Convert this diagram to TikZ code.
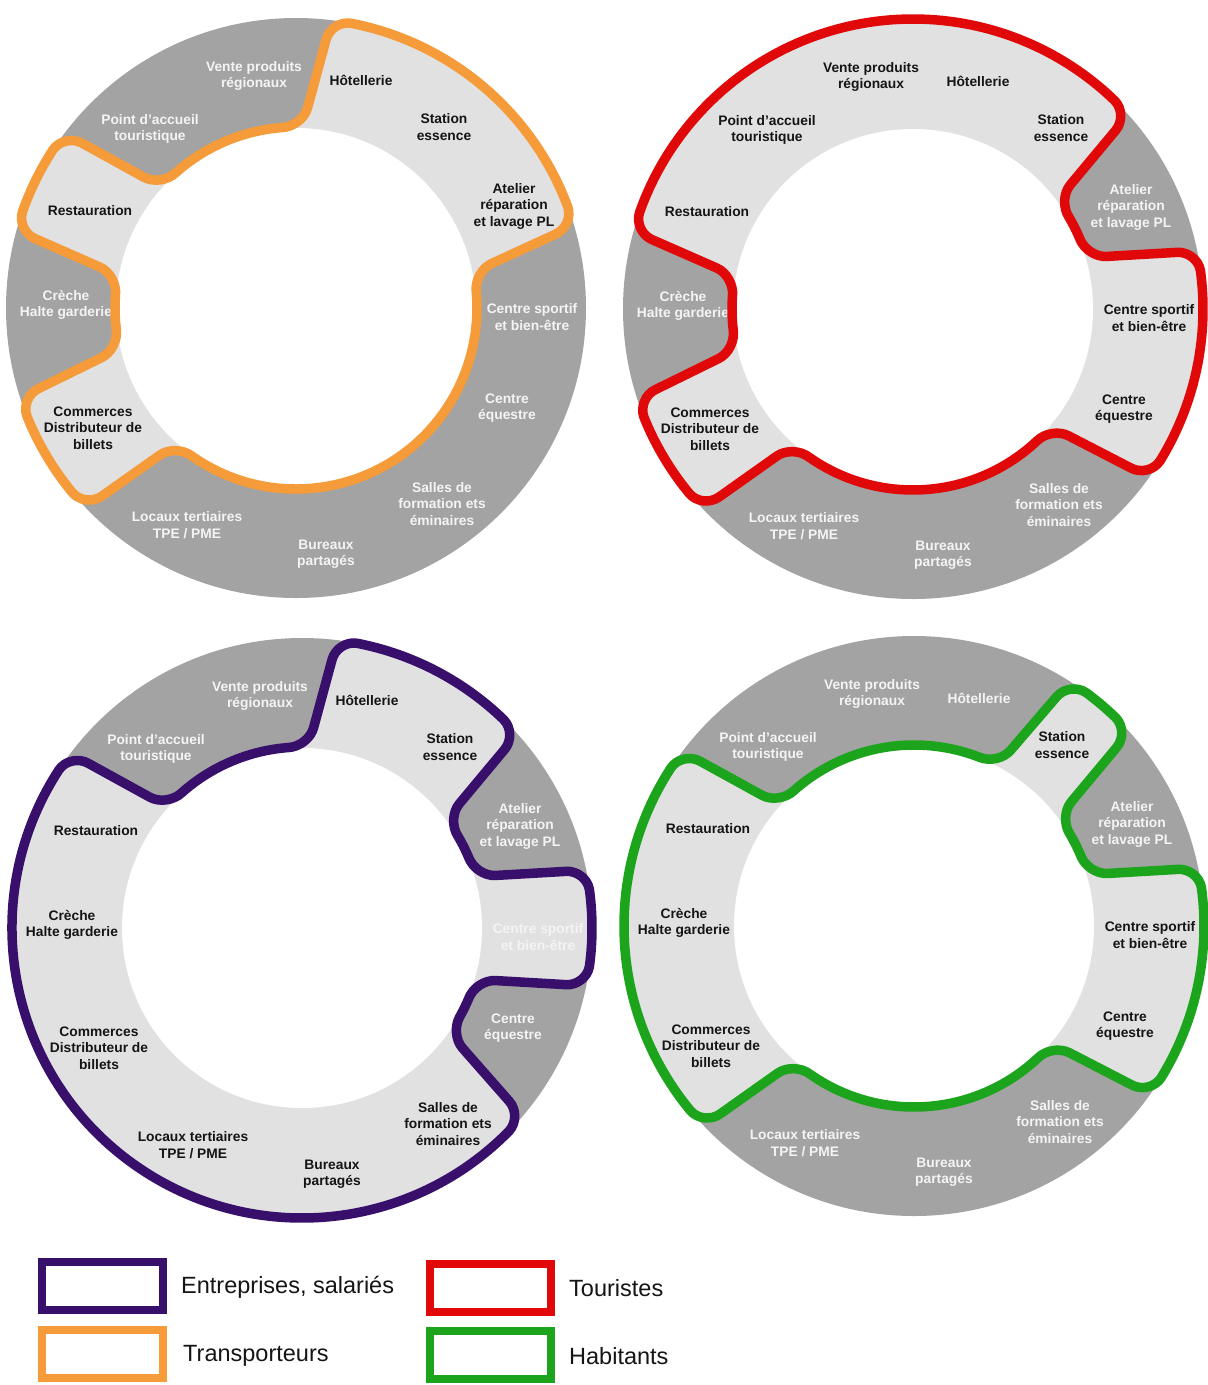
\documentclass[tikz,border=0pt]{standalone}
\usepackage{fontspec}
\setmainfont{Liberation Sans}
\usetikzlibrary{calc}
\definecolor{ringdark}{HTML}{A3A3A3}
\definecolor{ringlight}{HTML}{E1E1E1}
\definecolor{cOrange}{HTML}{F59B3A}
\definecolor{cRed}{HTML}{E00808}
\definecolor{cPurple}{HTML}{38106C}
\definecolor{cGreen}{HTML}{1CA51C}
\definecolor{tD}{HTML}{151515}
\definecolor{tW}{HTML}{F4F4F4}

\def\Ro{290}\def\Ri{181}\def\Rring{290}\def\Rhole{180}
% arcs between two boundaries (angles in degrees)
\newcommand\Oarc[2]{arc[start angle=#1+6.45,end angle=#2-6.45,radius=\Ro]}
\newcommand\Iarc[2]{arc[start angle=#1+8.83,end angle=#2-8.83,radius=\Ri]}
% transitions at a boundary, with rounded corners
\newcommand\OtoI[1]{.. controls (#1-4.28:\Ro) and ($(#1-2.5:\Ro)!9pt!(#1+2.5:\Ri)$) .. ($(#1-2.5:\Ro)!20pt!(#1+2.5:\Ri)$)
  -- ($(#1+2.5:\Ri)!20pt!(#1-2.5:\Ro)$)
  .. controls ($(#1+2.5:\Ri)!9pt!(#1-2.5:\Ro)$) and (#1+5.35:\Ri) .. (#1+8.83:\Ri)}
\newcommand\ItoO[1]{.. controls (#1-5.35:\Ri) and ($(#1-2.5:\Ri)!9pt!(#1+2.5:\Ro)$) .. ($(#1-2.5:\Ri)!20pt!(#1+2.5:\Ro)$)
  -- ($(#1+2.5:\Ro)!20pt!(#1-2.5:\Ri)$)
  .. controls ($(#1+2.5:\Ro)!9pt!(#1-2.5:\Ri)$) and (#1+4.28:\Ro) .. (#1+6.45:\Ro)}

\def\pathOrange{(20.45:\Ro) \Oarc{14}{85.5} \OtoI{85.5} \Iarc{85.5}{140.5} \ItoO{140.5} \Oarc{140.5}{167} \OtoI{167} \Iarc{167}{195.5} \ItoO{195.5} \Oarc{195.5}{226} \OtoI{226} \Iarc{226}{374} \ItoO{374} -- cycle}
\def\pathRed{(45.95:\Ro) \Oarc{39.5}{167} \OtoI{167} \Iarc{167}{195.5} \ItoO{195.5} \Oarc{195.5}{226} \OtoI{226} \Iarc{226}{322} \ItoO{322} \Oarc{322}{374} \OtoI{374} \Iarc{374}{399.5} \ItoO{399.5} -- cycle}
\def\pathPurple{(45.95:\Ro) \Oarc{39.5}{85.5} \OtoI{85.5} \Iarc{85.5}{140.5} \ItoO{140.5} \Oarc{140.5}{322} \OtoI{322} \Iarc{322}{346} \ItoO{346} \Oarc{346}{374} \OtoI{374} \Iarc{374}{399.5} \ItoO{399.5} -- cycle}
\def\pathGreen{(45.95:\Ro) \Oarc{39.5}{60} \OtoI{60} \Iarc{60}{140.5} \ItoO{140.5} \Oarc{140.5}{226} \OtoI{226} \Iarc{226}{322} \ItoO{322} \Oarc{322}{374} \OtoI{374} \Iarc{374}{399.5} \ItoO{399.5} -- cycle}

\newcommand\colsA[7]{\colorlet{cV}{#1}\colorlet{cH}{#2}\colorlet{cS}{#3}\colorlet{cA}{#4}\colorlet{cSp}{#5}\colorlet{cEq}{#6}\colorlet{cSa}{#7}}
\newcommand\colsB[6]{\colorlet{cBu}{#1}\colorlet{cLo}{#2}\colorlet{cCo}{#3}\colorlet{cCr}{#4}\colorlet{cRe}{#5}\colorlet{cPo}{#6}}

\newcommand\donutlabels[1]{%
  \node[lab,text=cV]  (#1-vente)   at (-42,232)   {Vente produits\\régionaux};
  \node[lab,text=cH]  (#1-hotel)   at (65,228)    {Hôtellerie};
  \node[lab,text=cS]  (#1-station) at (148,181)   {Station\\essence};
  \node[lab,text=cA]  (#1-atelier) at (218,102)   {Atelier\\réparation\\et lavage PL};
  \node[lab,text=cSp] (#1-sport)   at (236,-9)    {Centre sportif\\et bien-être};
  \node[lab,text=cEq] (#1-equestre) at (211,-100) {Centre\\équestre};
  \node[lab,text=cSa] (#1-salles)  at (146,-196)  {Salles de\\formation ets\\éminaires};
  \node[lab,text=cBu] (#1-bureaux) at (30,-246)   {Bureaux\\partagés};
  \node[lab,text=cLo] (#1-locaux)  at (-109,-217) {Locaux tertiaires\\TPE / PME};
  \node[lab,text=cCo] (#1-commerces) at (-203,-120) {Commerces\\Distributeur de\\billets};
  \node[lab,text=cCr] (#1-creche)  at (-230,3)    {Crèche\\Halte garderie};
  \node[lab,text=cRe] (#1-restau)  at (-206,97)   {Restauration};
  \node[lab,text=cPo] (#1-point)   at (-146,179)  {Point d'accueil\\touristique};
}

\tikzset{
  lab/.style={font=\fontsize{13.8}{16.5}\selectfont\bfseries, align=center, inner sep=0pt},
  outline/.style={line width=9.5pt, line join=round},
  legbox/.style={draw, line width=8pt, fill=white, minimum width=121pt, minimum height=48pt, inner sep=0pt},
  legtext/.style={anchor=west, inner sep=0pt, text=tD, font=\fontsize{23.5}{26}\selectfont},
}

\begin{document}
\begin{tikzpicture}[x=1pt,y=1pt]
\useasboundingbox (0,0) rectangle (1208,-1385);
\fill[white] (0,0) rectangle (1208,-1385);

% Donut 1 : Transporteurs (orange)
\begin{scope}[shift={(296,-308)}]
  \fill[ringdark] (0,0) circle[radius=\Rring];
  \fill[ringlight] \pathOrange;
  \fill[white] (0,0) circle[radius=\Rhole];
  \colsA{tW}{tD}{tD}{tD}{tW}{tW}{tW}
  \colsB{tW}{tW}{tD}{tW}{tD}{tW}
  \donutlabels{d1}
  \draw[outline,cOrange] \pathOrange;
\end{scope}

% Donut 2 : Touristes (red)
\begin{scope}[shift={(913,-309)}]
  \fill[ringdark] (0,0) circle[radius=\Rring];
  \fill[ringlight] \pathRed;
  \fill[white] (0,0) circle[radius=\Rhole];
  \colsA{tD}{tD}{tD}{tW}{tD}{tD}{tW}
  \colsB{tW}{tW}{tD}{tW}{tD}{tD}
  \donutlabels{d2}
  \draw[outline,cRed] \pathRed;
\end{scope}

% Donut 3 : Entreprises, salariés (purple)
\begin{scope}[shift={(302,-928)}]
  \fill[ringdark] (0,0) circle[radius=\Rring];
  \fill[ringlight] \pathPurple;
  \fill[white] (0,0) circle[radius=\Rhole];
  \colsA{tW}{tD}{tD}{tW}{tW}{tW}{tD}
  \colsB{tD}{tD}{tD}{tD}{tD}{tW}
  \donutlabels{d3}
  \draw[outline,cPurple] \pathPurple;
\end{scope}

% Donut 4 : Habitants (green)
\begin{scope}[shift={(914,-926)}]
  \fill[ringdark] (0,0) circle[radius=\Rring];
  \fill[ringlight] \pathGreen;
  \fill[white] (0,0) circle[radius=\Rhole];
  \colsA{tW}{tW}{tD}{tW}{tD}{tD}{tW}
  \colsB{tW}{tW}{tD}{tD}{tD}{tW}
  \donutlabels{d4}
  \draw[outline,cGreen] \pathGreen;
\end{scope}

% Legend
\node[legbox,draw=cPurple] (legP) at (102.5,-1285.5) {};
\node[legbox,draw=cOrange] (legO) at (102.5,-1353.5) {};
\node[legbox,draw=cRed]    (legR) at (490.5,-1288) {};
\node[legbox,draw=cGreen]  (legG) at (490.5,-1354.5) {};
\node[legtext] (txtP) at (181,-1287) {Entreprises, salariés};
\node[legtext] (txtO) at (183,-1356) {Transporteurs};
\node[legtext] (txtR) at (569,-1288) {Touristes};
\node[legtext] (txtG) at (569,-1356) {Habitants};
\end{tikzpicture}
\end{document}
